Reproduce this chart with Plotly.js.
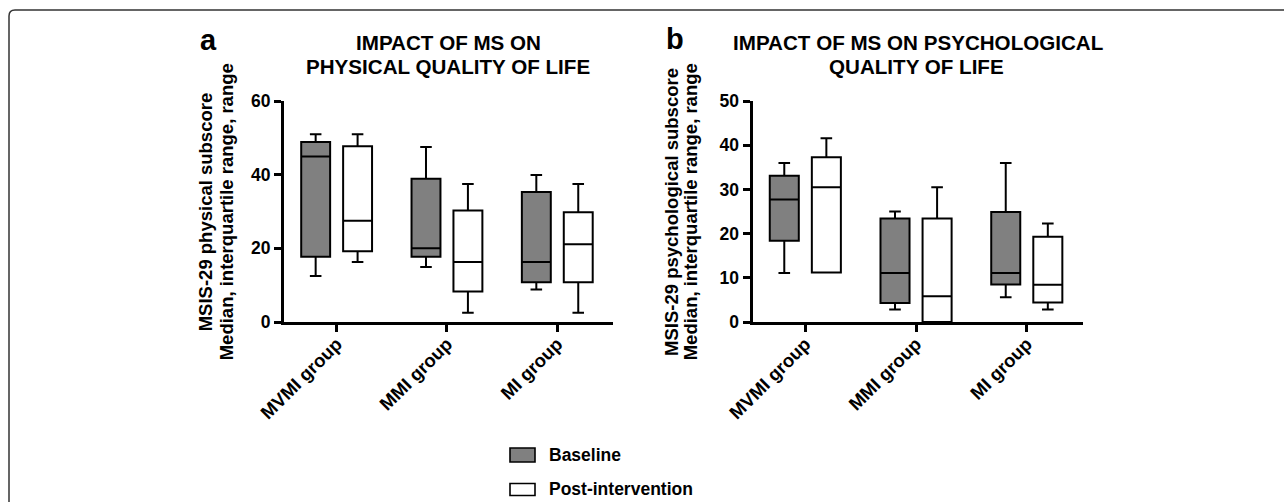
<!DOCTYPE html>
<html>
<head>
<meta charset="utf-8">
<script src="https://cdn.plot.ly/plotly-3.0.1.min.js"></script>
<style>html,body{margin:0;padding:0;background:#fff;}#chart{width:1284px;height:502px;}</style>
</head>
<body>
<div id="chart"></div>
<script>
// ---- data ----
var categories = ['MVMI group', 'MMI group', 'MI group'];
var seriesNames = ['Baseline', 'Post-intervention'];

// Panel a: physical subscore
var physBaseMin = [12.5, 14.9, 8.8];
var physBaseQ1 = [17.7, 17.7, 10.8];
var physBaseMed = [44.9, 20.0, 16.3];
var physBaseQ3 = [48.9, 38.9, 35.3];
var physBaseMax = [51.0, 47.5, 39.9];

var physPostMin = [16.3, 2.5, 2.5];
var physPostQ1 = [19.2, 8.3, 10.8];
var physPostMed = [27.5, 16.3, 21.1];
var physPostQ3 = [47.7, 30.3, 29.8];
var physPostMax = [51.0, 37.5, 37.5];

// Panel b: psychological subscore
var psyBaseMin = [11.1, 2.8, 5.6];
var psyBaseQ1 = [18.4, 4.3, 8.5];
var psyBaseMed = [27.7, 11.1, 11.1];
var psyBaseQ3 = [33.1, 23.4, 24.9];
var psyBaseMax = [36.0, 25.0, 36.0];

var psyPostMin = [11.2, 0, 2.8];
var psyPostQ1 = [11.2, 0, 4.4];
var psyPostMed = [30.5, 5.8, 8.4];
var psyPostQ3 = [37.3, 23.4, 19.3];
var psyPostMax = [41.6, 30.5, 22.3];

var panelLetters = ['a', 'b'];
var panelTitlesA = ['IMPACT OF MS ON', 'PHYSICAL QUALITY OF LIFE'];
var panelTitlesB = ['IMPACT OF MS ON PSYCHOLOGICAL', 'QUALITY OF LIFE'];
var yTitleA = ['MSIS-29 physical subscore', 'Median, interquartile range, range'];
var yTitleB = ['MSIS-29 psychological subscore', 'Median, interquartile range, range'];
var yRangeA = [0, 60];
var yRangeB = [0, 50];

// ---- layout helpers ----
var W = 1284, H = 502;
function px(x) { return x / W; }
function py(y) { return 1 - y / H; }
var FONT = 'Liberation Sans, Arial, Helvetica, sans-serif';
var fills = ['#808080', '#ffffff'];

function boxTrace(name, fill, mn, q1, med, q3, mx, xa, ya, og, ag) {
  return {
    type: 'box', name: name, x: categories,
    lowerfence: mn, q1: q1, median: med, q3: q3, upperfence: mx,
    fillcolor: fill, line: {color: '#000', width: 2},
    whiskerwidth: 0.4, boxpoints: false, showlegend: false,
    offsetgroup: og, alignmentgroup: ag,
    xaxis: xa, yaxis: ya, hoverinfo: 'y'
  };
}

var data = [
  boxTrace(seriesNames[0], fills[0], physBaseMin, physBaseQ1, physBaseMed, physBaseQ3, physBaseMax, 'x', 'y', 'base', 'A'),
  boxTrace(seriesNames[1], fills[1], physPostMin, physPostQ1, physPostMed, physPostQ3, physPostMax, 'x', 'y', 'post', 'A'),
  boxTrace(seriesNames[0], fills[0], psyBaseMin, psyBaseQ1, psyBaseMed, psyBaseQ3, psyBaseMax, 'x2', 'y2', 'base', 'B'),
  boxTrace(seriesNames[1], fills[1], psyPostMin, psyPostQ1, psyPostMed, psyPostQ3, psyPostMax, 'x2', 'y2', 'post', 'B')
];

function xAxis(domain, anchor) {
  return {
    domain: domain, anchor: anchor, type: 'category',
    range: [-0.477, 2.505],
    showline: true, linewidth: 3, linecolor: '#000',
    ticks: 'outside', ticklen: 7, tickwidth: 3, tickcolor: '#000',
    tickangle: -45, ticklabelstandoff: -6,
    tickfont: {family: FONT, size: 18.5, weight: 'bold', color: '#000'},
    showgrid: false, zeroline: false, fixedrange: true
  };
}
function yAxis(domain, anchor, range, dtick) {
  return {
    domain: domain, anchor: anchor, range: range, dtick: dtick, tick0: 0,
    showline: true, linewidth: 3, linecolor: '#000',
    ticks: 'outside', ticklen: 7, tickwidth: 3, tickcolor: '#000',
    tickfont: {family: FONT, size: 17.5, weight: 'bold', color: '#000'},
    showgrid: false, zeroline: false, fixedrange: true
  };
}

var yDom = [py(322), py(101)];

function ann(text, x, y, size, opts) {
  var a = {
    text: text, xref: 'paper', yref: 'paper', x: px(x), y: py(y),
    xanchor: 'center', yanchor: 'middle', showarrow: false,
    font: {family: FONT, size: size, weight: 'bold', color: '#000'}
  };
  for (var k in (opts || {})) a[k] = opts[k];
  return a;
}

var annotations = [
  ann(panelLetters[0], 208.3, 40, 29),
  ann(panelLetters[1], 675, 39.3, 29),
  ann(panelTitlesA[0], 448, 42.9, 20.6),
  ann(panelTitlesA[1], 448, 66.7, 20.6),
  ann(panelTitlesB[0], 917.5, 42.9, 20.6),
  ann(panelTitlesB[1], 916.5, 66.7, 20.6),
  ann(yTitleA[0], 205.3, 212, 18.5, {textangle: -90}),
  ann(yTitleA[1], 226.3, 212, 18.5, {textangle: -90}),
  ann(yTitleB[0], 670.9, 212, 18.5, {textangle: -90}),
  ann(yTitleB[1], 690.3, 212, 18.5, {textangle: -90}),
  ann(seriesNames[0], 547, 455, 17.5, {xanchor: 'left'}),
  ann(seriesNames[1], 547, 489, 17.5, {xanchor: 'left'})
];

var shapes = [
  {type: 'rect', xref: 'paper', yref: 'paper', x0: px(510), x1: px(535), y0: py(462), y1: py(448),
   fillcolor: fills[0], line: {color: '#000', width: 1.6}},
  {type: 'rect', xref: 'paper', yref: 'paper', x0: px(510), x1: px(535), y0: py(495.5), y1: py(483.5),
   fillcolor: fills[1], line: {color: '#000', width: 1.6}},
  {type: 'path', xref: 'paper', yref: 'paper',
   path: 'M' + px(9) + ',' + py(503) + ' L' + px(9) + ',' + py(16) + ' Q' + px(9) + ',' + py(10) + ' ' + px(15) + ',' + py(10) + ' L' + px(1285) + ',' + py(10),
   line: {color: '#333', width: 1.5}}
];

var layout = {
  width: W, height: H,
  margin: {l: 0, r: 0, t: 0, b: 0, pad: 0},
  paper_bgcolor: '#fff', plot_bgcolor: 'rgba(0,0,0,0)',
  font: {family: FONT, color: '#000'},
  boxmode: 'group', boxgap: 0.24, boxgroupgap: 0.31,
  showlegend: false,
  xaxis: xAxis([px(284), px(613)], 'y'),
  yaxis: yAxis(yDom, 'x', yRangeA, 20),
  xaxis2: xAxis([px(752.5), px(1082.7)], 'y2'),
  yaxis2: yAxis(yDom, 'x2', yRangeB, 10),
  annotations: annotations,
  shapes: shapes
};

Plotly.newPlot('chart', data, layout, {staticPlot: true, displayModeBar: false});
</script>
</body>
</html>
